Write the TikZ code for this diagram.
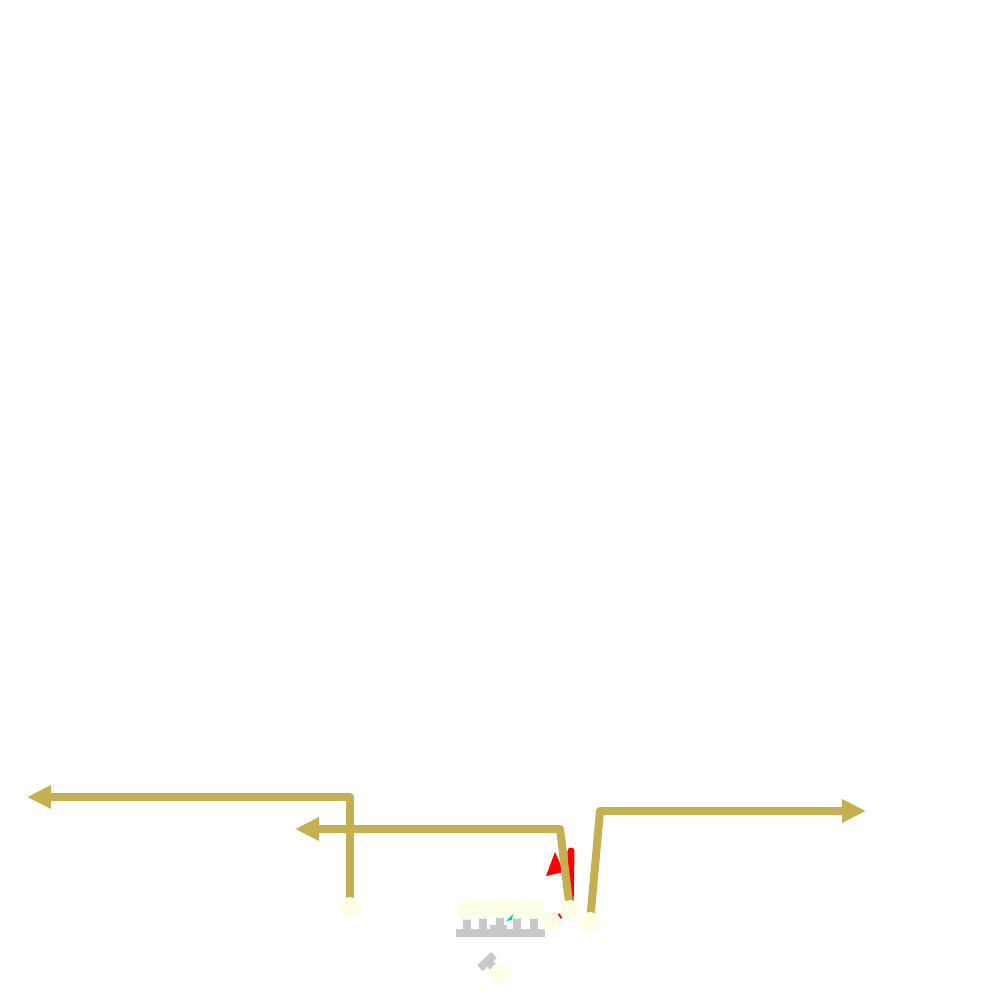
\documentclass[tikz,border=0pt]{standalone}
\usetikzlibrary{arrows.meta}
\definecolor{routegold}{RGB}{196,176,80}
\definecolor{stopcream}{RGB}{255,255,232}
\definecolor{railgray}{RGB}{200,200,200}
\definecolor{pointgreen}{RGB}{0,220,140}
\tikzset{
  stop/.style={circle, fill=stopcream, inner sep=0pt, minimum size=0.2cm},
  route/.style={routegold, line width=0.08cm, line join=round, -{Triangle[length=0.24cm,width=0.22cm]}},
  rail/.style={railgray, line width=0.08cm},
}
\begin{document}
\begin{tikzpicture}[x=0.01cm, y=-0.01cm]
\useasboundingbox (0,0) rectangle (1000,1000);
% gleise
\draw[rail] (456,933) -- (545,933);
\draw[rail] (490,929) -- (507,929);
\foreach \x in {467,483,500,517,534} \draw[rail] (\x,909) -- (\x,933);
\draw[rail] (500,973) -- (487,961);
\draw[rail] (480,968) -- (494,955);
% haltestellen
\node[stop] (s1) at (467,910) {};
\node[stop] (s2) at (483,909) {};
\node[stop] (s3) at (500,908) {};
\node[stop] (s4) at (517,909) {};
\node[stop] (s5) at (534,909) {};
\node[stop] (s6) at (550,922) {};
\node[stop] (a) at (570,910) {};
\node[stop] (b) at (590,922) {};
\node[stop] (c) at (350,907) {};
\node[stop] (d) at (500,973) {};
% kleiner gruener pfeil
\fill[pointgreen] (506,921) -- (513,914) -- (512,920) -- cycle;
% rote markierung
\draw[red, line width=0.07cm, line cap=round] (a.center) -- (571,851);
\draw[red, line width=0.05cm] (s6) -- (a);
\fill[red] (555,852) -- (564,872) -- (546,876) -- cycle;
% linien
\draw[route] (c.center) -- (350,797) -- (27,797);
\draw[route] (a.center) -- (560,829) -- (295,829);
\draw[route] (b.center) -- (600,811) -- (866,811);
\node[stop] at (c) {};
\node[stop] at (a) {};
\node[stop] at (b) {};
\end{tikzpicture}
\end{document}
